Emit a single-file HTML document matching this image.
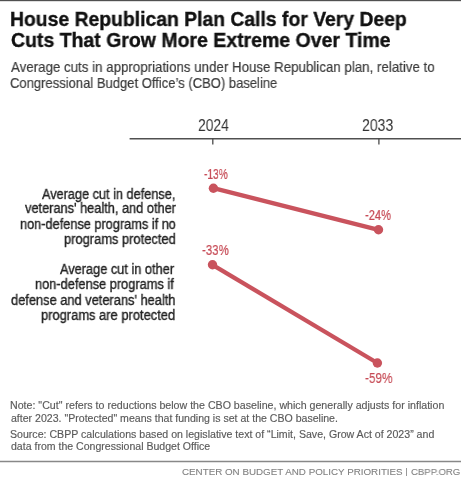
<!DOCTYPE html>
<html><head><meta charset="utf-8">
<style>
html,body{margin:0;padding:0;background:#fff;}
body{width:461px;height:480px;position:relative;overflow:hidden;font-family:"Liberation Sans",sans-serif;}
.t{position:absolute;white-space:nowrap;line-height:1;transform-origin:0 0;will-change:transform;}
.bl{display:inline-block;width:0;height:0;}
.topbar{position:absolute;left:0;top:0;width:461px;height:1px;background:#505050;}
.topbar2{position:absolute;left:0;top:1px;width:461px;height:1px;background:#dedede;}
.ca,.cb{-webkit-text-stroke:0.35px #222;}
.cs{-webkit-text-stroke:0.2px #3b3b3b;}
.cp{-webkit-text-stroke:0.2px #c64a55;}
.ct{-webkit-text-stroke:0.35px #111;}
.cn{-webkit-text-stroke:0.15px #5a5a5a;}
.cf{-webkit-text-stroke:0.1px #808080;}
</style></head>
<body>
<div class="topbar"></div><div class="topbar2"></div>
<svg style="position:absolute;left:0;top:0" width="461" height="480">
  <line x1="129.6" y1="138.7" x2="461" y2="138.7" stroke="#505050" stroke-width="1.6"/>
  <line x1="212.8" y1="138" x2="212.8" y2="144.5" stroke="#4a4a4a" stroke-width="1.3"/>
  <line x1="378.9" y1="138" x2="378.9" y2="144.5" stroke="#4a4a4a" stroke-width="1.3"/>
  <g fill="#c9535d" stroke="#c9535d">
  <line x1="213.4" y1="188.2" x2="378.5" y2="229.8" stroke-width="4.3"/>
  <circle cx="213.4" cy="188.2" r="4.7" stroke="none"/>
  <circle cx="378.5" cy="229.8" r="4.7" stroke="none"/>
  <line x1="212.5" y1="264.8" x2="377.4" y2="363" stroke-width="4.3"/>
  <circle cx="212.5" cy="264.8" r="4.7" stroke="none"/>
  <circle cx="377.4" cy="363" r="4.7" stroke="none"/>
  </g>
  <line x1="0" y1="461.5" x2="461" y2="461.5" stroke="#888" stroke-width="1.5"/>
</svg>
<div class="pipe" style="position:absolute;left:406px;top:467.5px;width:1px;height:8.3px;background:#999;"></div>
<div class="t ct" id="t1" style="left:10.02px;top:9.51px;font-weight:bold;font-size:19.8px;color:#111111;transform:scaleX(0.9782);">House Republican Plan Calls for Very Deep<span class="bl"></span></div>
<div class="t ct" id="t2" style="left:10.61px;top:30.81px;font-weight:bold;font-size:19.8px;color:#111111;transform:scaleX(0.9844);">Cuts That Grow More Extreme Over Time<span class="bl"></span></div>
<div class="t cs" id="s1" style="left:10.60px;top:58.81px;font-weight:normal;font-size:15px;color:#3b3b3b;transform:scaleX(0.8872);">Average cuts in appropriations under House Republican plan, relative to<span class="bl"></span></div>
<div class="t cs" id="s2" style="left:10.13px;top:74.50px;font-weight:normal;font-size:15px;color:#3b3b3b;transform:scaleX(0.8680);">Congressional Budget Office’s (CBO) baseline<span class="bl"></span></div>
<div class="t cy" id="y1" style="left:197.55px;top:116.61px;font-weight:normal;font-size:16.5px;color:#333333;transform:scaleX(0.8406);">2024<span class="bl"></span></div>
<div class="t cy" id="y2" style="left:362.16px;top:116.61px;font-weight:normal;font-size:16.5px;color:#333333;transform:scaleX(0.8518);">2033<span class="bl"></span></div>
<div class="t cp" id="p1" style="left:204.28px;top:166.31px;font-weight:normal;font-size:15px;color:#c64a55;transform:scaleX(0.6776);">-13%<span class="bl"></span></div>
<div class="t cp" id="p2" style="left:365.22px;top:207.10px;font-weight:normal;font-size:15px;color:#c64a55;transform:scaleX(0.7424);">-24%<span class="bl"></span></div>
<div class="t cp" id="p3" style="left:202.22px;top:241.91px;font-weight:normal;font-size:15px;color:#c64a55;transform:scaleX(0.7653);">-33%<span class="bl"></span></div>
<div class="t cp" id="p4" style="left:365.21px;top:370.10px;font-weight:normal;font-size:15px;color:#c64a55;transform:scaleX(0.7835);">-59%<span class="bl"></span></div>
<div class="t ca" id="a1" style="left:42.00px;top:187.50px;font-weight:normal;font-size:13.8px;color:#222222;transform:scaleX(0.9208);">Average cut in defense,<span class="bl"></span></div>
<div class="t ca" id="a2" style="left:24.60px;top:202.40px;font-weight:normal;font-size:13.8px;color:#222222;transform:scaleX(0.9264);">veterans' health, and other<span class="bl"></span></div>
<div class="t ca" id="a3" style="left:20.27px;top:217.61px;font-weight:normal;font-size:13.8px;color:#222222;transform:scaleX(0.9234);">non-defense programs if no<span class="bl"></span></div>
<div class="t ca" id="a4" style="left:64.25px;top:232.61px;font-weight:normal;font-size:13.8px;color:#222222;transform:scaleX(0.9341);">programs protected<span class="bl"></span></div>
<div class="t cb" id="b1" style="left:60.20px;top:263.00px;font-weight:normal;font-size:13.8px;color:#222222;transform:scaleX(0.9252);">Average cut in other<span class="bl"></span></div>
<div class="t cb" id="b2" style="left:35.07px;top:278.40px;font-weight:normal;font-size:13.8px;color:#222222;transform:scaleX(0.9276);">non-defense programs if<span class="bl"></span></div>
<div class="t cb" id="b3" style="left:11.27px;top:293.81px;font-weight:normal;font-size:13.8px;color:#222222;transform:scaleX(0.9303);">defense and veterans' health<span class="bl"></span></div>
<div class="t cb" id="b4" style="left:41.26px;top:309.00px;font-weight:normal;font-size:13.8px;color:#222222;transform:scaleX(0.9353);">programs are protected<span class="bl"></span></div>
<div class="t cn" id="n1" style="left:10.14px;top:401.21px;font-weight:normal;font-size:10px;color:#5a5a5a;transform:scaleX(1.0634);">Note: "Cut" refers to reductions below the CBO baseline, which generally adjusts for inflation<span class="bl"></span></div>
<div class="t cn" id="n2" style="left:11.20px;top:413.50px;font-weight:normal;font-size:10px;color:#5a5a5a;transform:scaleX(1.0563);">after 2023. "Protected" means that funding is set at the CBO baseline.<span class="bl"></span></div>
<div class="t cn" id="n3" style="left:10.14px;top:430.41px;font-weight:normal;font-size:10px;color:#5a5a5a;transform:scaleX(1.0592);">Source: CBPP calculations based on legislative text of “Limit, Save, Grow Act of 2023” and<span class="bl"></span></div>
<div class="t cn" id="n4" style="left:11.20px;top:442.21px;font-weight:normal;font-size:10px;color:#5a5a5a;transform:scaleX(1.0550);">data from the Congressional Budget Office<span class="bl"></span></div>
<div class="t cf" id="f1" style="left:182.20px;top:466.81px;font-weight:normal;font-size:9.8px;color:#808080;transform:scaleX(1.0000);">CENTER ON BUDGET AND POLICY PRIORITIES<span class="bl"></span></div>
<div class="t cf" id="f3" style="left:410.60px;top:466.81px;font-weight:normal;font-size:9.8px;color:#808080;transform:scaleX(0.9762);">CBPP.ORG<span class="bl"></span></div>
</body></html>
